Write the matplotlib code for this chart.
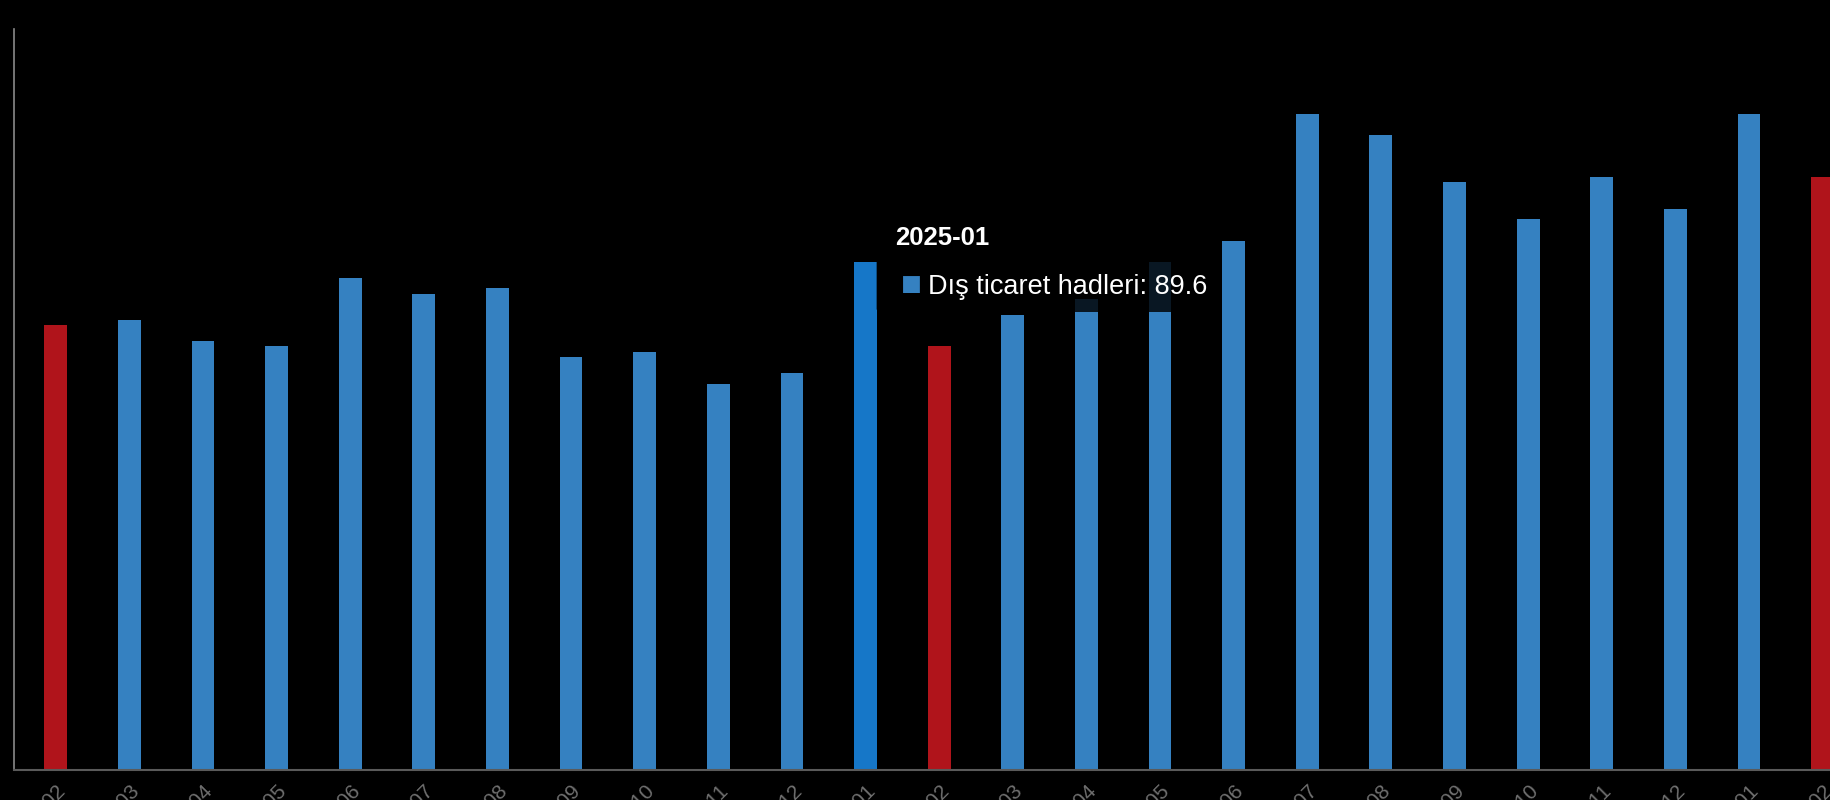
import numpy as np
import matplotlib.pyplot as plt
from matplotlib.patches import FancyBboxPatch

# Data
months = ['2024-02', '2024-03', '2024-04', '2024-05', '2024-06', '2024-07',
          '2024-08', '2024-09', '2024-10', '2024-11', '2024-12', '2025-01',
          '2025-02', '2025-03', '2025-04', '2025-05', '2025-06', '2025-07',
          '2025-08', '2025-09', '2025-10', '2025-11', '2025-12', '2026-01',
          '2026-02']
values = [88.4, 88.5, 88.1, 88.0, 89.3, 89.0, 89.1, 87.8, 87.9, 87.3, 87.5, 89.6,
          88.0, 88.6, 88.9, 89.6, 90.0, 92.4, 92.0, 91.1, 90.4, 91.2, 90.6, 92.4,
          91.2]
red_months = ['2024-02', '2025-02', '2026-02']
hover_month = '2025-01'
series_name = 'Dış ticaret hadleri'

blue = '#3581c1'
red = '#b0141b'
hover_blue = '#1677c8'

colors = []
for m in months:
    if m in red_months:
        colors.append(red)
    elif m == hover_month:
        colors.append(hover_blue)
    else:
        colors.append(blue)

plt.rcParams['font.family'] = ['Liberation Sans', 'DejaVu Sans']

fig = plt.figure(figsize=(18.3, 8), dpi=100, facecolor='black')
ax = fig.add_axes([0.0075, 0.0375, 0.9925, 0.9265])
ax.set_facecolor('black')

x = np.arange(len(months))
ax.bar(x, values, width=0.31, color=colors, zorder=2)

ax.set_xlim(-0.57, 24.1)
ax.set_ylim(80, 94)
ax.set_xticks(x)
ax.set_xticklabels(months, rotation=45, ha='right', rotation_mode='anchor',
                   color='#6f6f6f', fontsize=15)
ax.tick_params(axis='x', length=0, pad=8)
ax.set_yticks([])
for s in ['top', 'right']:
    ax.spines[s].set_visible(False)
ax.spines['left'].set_color('#8a8a8a')
ax.spines['left'].set_linewidth(1.2)
ax.spines['bottom'].set_color('#5a5a5a')
ax.spines['bottom'].set_linewidth(1.5)

# tooltip
hi = months.index(hover_month)
box = FancyBboxPatch((0.483, 0.614), 0.18, 0.125, boxstyle='round,pad=0.004',
                     transform=fig.transFigure, facecolor='black', alpha=0.82,
                     edgecolor='none', zorder=5)
fig.patches.append(box)
fig.text(0.489, 0.694, hover_month, color='white', fontsize=18.5,
         fontweight='bold', zorder=6)
fig.text(0.4925, 0.631, '\u25A0', color=blue, fontsize=25, zorder=6)
fig.text(0.507, 0.632, f'{series_name}: {values[hi]}', color='white',
         fontsize=19.5, zorder=6)

fig.savefig('out.png', dpi=100, facecolor='black')
